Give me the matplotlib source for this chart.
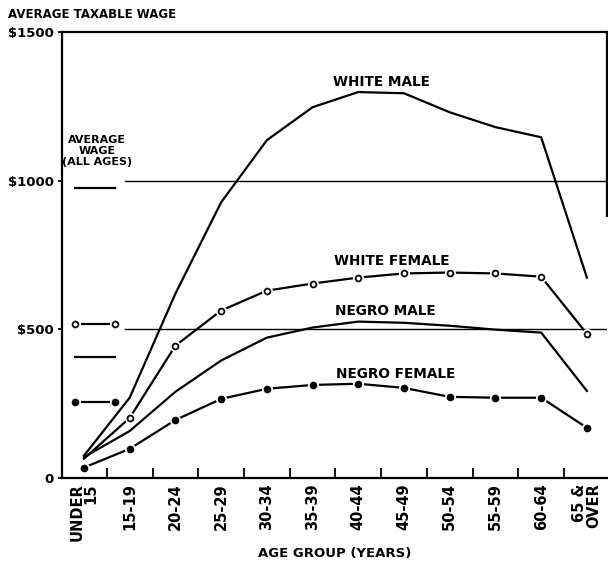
import numpy as np
import matplotlib.pyplot as plt

plt.rcParams["font.family"] = ["DejaVu Sans"]
plt.rcParams["font.weight"] = "bold"

# values (dollars)
AGE_GROUPS = ["UNDER\n15", "15-19", "20-24", "25-29", "30-34", "35-39",
              "40-44", "45-49", "50-54", "55-59", "60-64", "65 &\nOVER"]
WHITE_MALE = [75, 270, 620, 927, 1136, 1247, 1298, 1294, 1230, 1180, 1146, 674]
WHITE_FEMALE = [65, 202, 445, 563, 630, 654, 674, 688, 691, 688, 677, 485]
NEGRO_MALE = [70, 158, 290, 395, 472, 506, 526, 522, 512, 499, 489, 293]
NEGRO_FEMALE = [35, 98, 195, 266, 300, 313, 317, 303, 273, 270, 270, 169]
# average wage, all ages: WM, WF, NM, NF
AVG_ALL_AGES = [977, 519, 408, 256]
GRID_LEVELS = [500, 1000]
Y_TICKS = [0, 500, 1000, 1500]
Y_LABELS = ["0", "$500", "$1000", "$1500"]

x = np.arange(len(AGE_GROUPS))
LW = 1.6

fig = plt.figure(figsize=(6.08, 5.63), dpi=100)
ax = fig.add_axes([62 / 608, 85 / 563, 545 / 608, 446 / 563])

# reference lines at $500 / $1000 (start right of the "average wage" key)
for lvl in GRID_LEVELS:
    ax.axhline(lvl, xmin=0.116, xmax=1, color="k", lw=1.0, zorder=1)


def curve(vals, marker=None, face=None, start=1):
    ax.plot(x, vals, color="k", lw=LW, zorder=2, solid_joinstyle="miter")
    if marker:
        ax.plot(x[start:], vals[start:], ls="none", marker="o", ms=8,
                mfc="white", mec="none", zorder=3)
        ax.plot(x[start:], vals[start:], ls="none", marker="o", ms=4.2,
                mfc=face, mec="k", mew=1.3, zorder=4)


curve(WHITE_MALE)
curve(WHITE_FEMALE, marker=True, face="white", start=1)
curve(NEGRO_MALE)
curve(NEGRO_FEMALE, marker=True, face="k", start=0)

# "average wage (all ages)" key at the left
kx = np.array([-0.2, 0.68])
ax.plot(kx, [AVG_ALL_AGES[0]] * 2, color="k", lw=LW)
ax.plot(kx, [AVG_ALL_AGES[2]] * 2, color="k", lw=LW)
for v, face in ((AVG_ALL_AGES[1], "white"), (AVG_ALL_AGES[3], "k")):
    ax.plot(kx, [v] * 2, color="k", lw=LW, zorder=2)
    ax.plot(kx, [v] * 2, ls="none", marker="o", ms=8, mfc="white", mec="none", zorder=3)
    ax.plot(kx, [v] * 2, ls="none", marker="o", ms=4.2, mfc=face, mec="k",
            mew=1.3, zorder=4)
ax.text(0.28, 1100, "AVERAGE\nWAGE\n(ALL AGES)", ha="center", va="center",
        fontsize=8, fontweight="bold", linespacing=1.1)

ax.text(6.50, 1333, "WHITE MALE", ha="center", va="center", fontsize=9.8, fontweight="bold")
ax.text(6.74, 731, "WHITE FEMALE", ha="center", va="center", fontsize=9.8, fontweight="bold")
ax.text(6.59, 563, "NEGRO MALE", ha="center", va="center", fontsize=9.8, fontweight="bold")
ax.text(6.81, 350, "NEGRO FEMALE", ha="center", va="center", fontsize=9.8, fontweight="bold")

ax.set_xlim(-0.48, 11.44)
ax.set_ylim(0, 1500)

ax.set_xticks(x)
ax.set_xticklabels(AGE_GROUPS, rotation=90, fontsize=10.5, fontweight="bold",
                   linespacing=0.95)
for lab in ax.get_xticklabels():
    lab.set_multialignment("right")
ax.tick_params(axis="x", which="major", length=0, pad=4)
ax.set_xticks(x[:-1] + 0.5, minor=True)
ax.tick_params(axis="x", which="minor", direction="in", length=7, width=1.3)

ax.set_yticks(Y_TICKS)
ax.set_yticklabels(Y_LABELS, fontsize=9.5, fontweight="bold")
ax.tick_params(axis="y", direction="out", length=3, width=1.3, pad=3)

for s in ax.spines.values():
    s.set_linewidth(1.6)
ax.spines["right"].set_bounds(880, 1500)

fig.text(8 / 608, 1 - 14 / 563, "AVERAGE TAXABLE WAGE", ha="left", va="center",
         fontsize=8.5, fontweight="bold")
fig.text(335 / 608, 1 - 553 / 563, "AGE GROUP (YEARS)", ha="center", va="center",
         fontsize=9.5, fontweight="bold")

fig.savefig("out.png", dpi=100)
